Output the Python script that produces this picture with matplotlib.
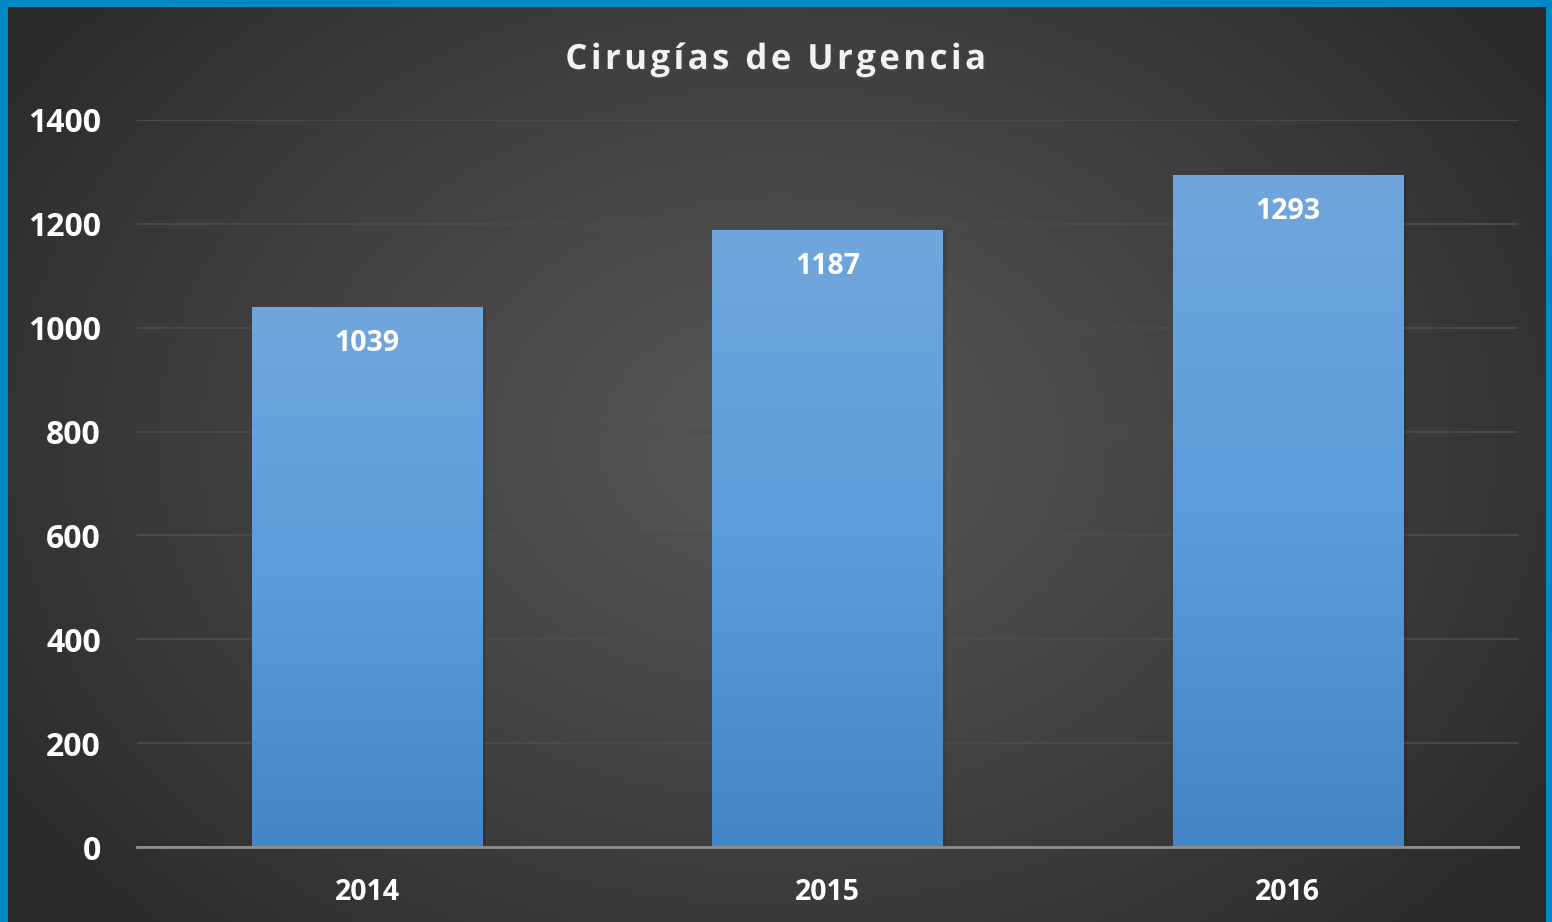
import numpy as np
import matplotlib.pyplot as plt
import matplotlib.patheffects as pe
from matplotlib.colors import LinearSegmentedColormap

years  = ['2014', '2015', '2016']
values = [1039, 1187, 1293]
y_ticks = [0, 200, 400, 600, 800, 1000, 1200, 1400]
title = 'Cirugías de Urgencia'

FONT = 'Open Sans'
W, H = 1552, 922
fig = plt.figure(figsize=(W / 100, H / 100), dpi=100)
fig.patch.set_facecolor('#0088c6')

# dark panel with radial glow
bg = fig.add_axes([8 / W, 0, (1546 - 8) / W, (H - 7) / H])
yy, xx = np.mgrid[0:400, 0:700]
r = np.sqrt(((xx - 350) / 420.0) ** 2 + ((yy - 190) / 300.0) ** 2)
glow = np.clip(1 - r, 0, 1) ** 0.9
bg_cmap = LinearSegmentedColormap.from_list('bg', ['#2a2a2a', '#585858'])
bg.imshow(glow, cmap=bg_cmap, aspect='auto', interpolation='bicubic',
          extent=[0, 1, 0, 1], vmin=0, vmax=1)
bg.axis('off')

ax = fig.add_axes([137 / W, (H - 847) / H, (1518 - 137) / W, (847 - 120) / H])
ax.set_facecolor('none')

bar_cmap = LinearSegmentedColormap.from_list('bar', ['#4385c5', '#5b9cdc', '#70a6db'])
grad = np.linspace(0, 1, 256).reshape(-1, 1)
bw = 0.5
for i, v in enumerate(values):
    # soft shadow
    ax.bar(i + 0.004, v, width=bw + 0.008, color='black', alpha=0.10, zorder=2)
    ax.imshow(grad, cmap=bar_cmap, aspect='auto', origin='lower',
              extent=[i - bw / 2, i + bw / 2, 0, v], zorder=3)
    ax.text(i, v - 36 * 1400 / 727, str(v), ha='center', va='center',
            color='white', fontsize=20.5, fontweight='bold', family=FONT, zorder=4)
ax.set_xlim(-0.5, len(years) - 0.5)
ax.set_ylim(0, 1400)

ax.set_yticks(y_ticks)
ax.set_xticks(range(len(years)))
ax.set_xticklabels(years)
ax.grid(axis='y', color='#4d4d4d', linewidth=1.2, zorder=0)
ax.set_axisbelow(True)
for s in ['top', 'right', 'left']:
    ax.spines[s].set_visible(False)
ax.spines['bottom'].set_color('#8f8f8f')
ax.spines['bottom'].set_linewidth(2)
ax.spines['bottom'].set_zorder(5)
ax.tick_params(length=0, colors='white')
ax.tick_params(axis='y', pad=26, labelsize=23)
ax.tick_params(axis='x', pad=22, labelsize=20.5)
for lab in ax.get_yticklabels() + ax.get_xticklabels():
    lab.set_fontweight('bold')
    lab.set_family(FONT)
    lab.set_color('white')

# letter-spaced title
fig.text(776 / W, 1 - 60 / H, '\u200a'.join(title),
         ha='center', va='center', color='#f2f2f2', fontsize=25,
         fontweight='bold', family=FONT,
         path_effects=[pe.withSimplePatchShadow(offset=(1.5, -1.5), alpha=0.6)])

fig.savefig('out.png', dpi=100, facecolor=fig.get_facecolor())
